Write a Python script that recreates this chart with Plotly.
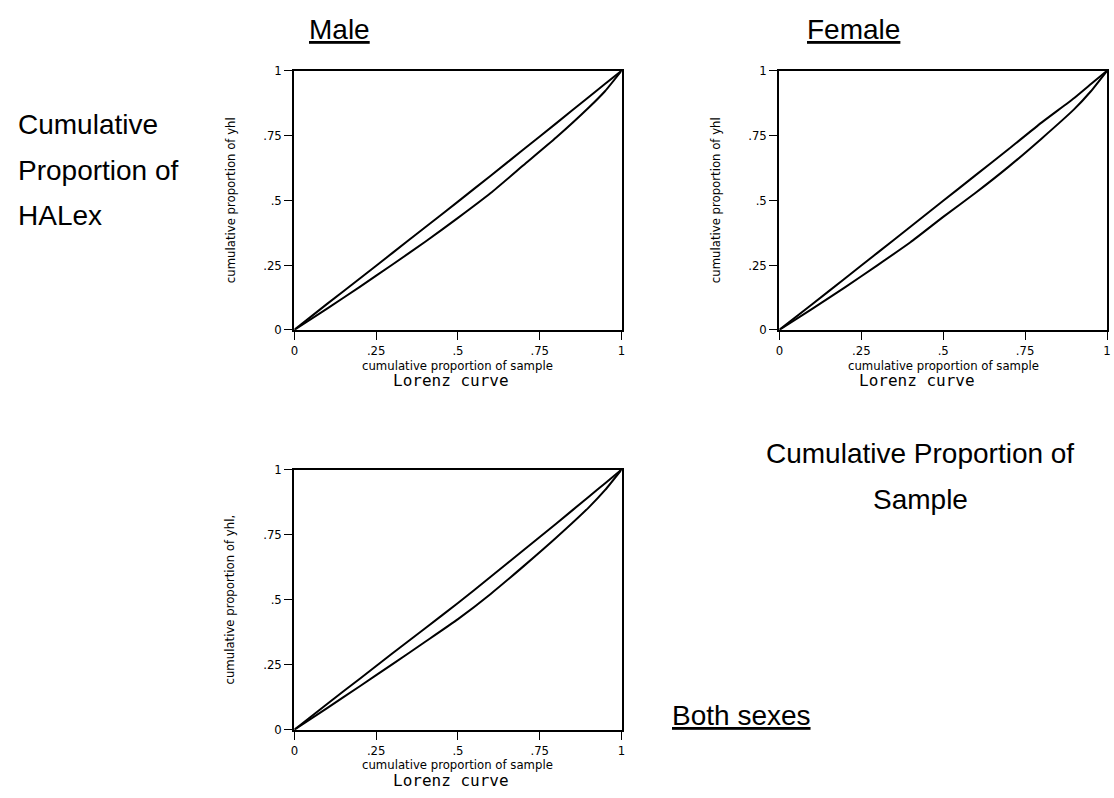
import plotly.graph_objects as go

W, H = 1114, 798

# cumulative proportion of sample (x)
sample_share = [0, 0.1, 0.2, 0.3, 0.4, 0.5, 0.6, 0.7, 0.8, 0.9, 0.95, 1]

male_upper = [0, 0.100, 0.198, 0.297, 0.396, 0.495, 0.595, 0.696, 0.797, 0.899, 0.950, 1]
male_lower = [0, 0.082, 0.166, 0.252, 0.340, 0.432, 0.528, 0.635, 0.742, 0.858, 0.922, 1]

female_upper = [0, 0.099, 0.198, 0.298, 0.398, 0.498, 0.598, 0.698, 0.800, 0.895, 0.948, 1]
female_lower = [0, 0.081, 0.164, 0.250, 0.338, 0.436, 0.530, 0.630, 0.738, 0.852, 0.920, 1]

both_upper = [0, 0.099, 0.196, 0.294, 0.390, 0.487, 0.588, 0.690, 0.792, 0.896, 0.948, 1]
both_lower = [0, 0.083, 0.167, 0.252, 0.338, 0.425, 0.522, 0.628, 0.738, 0.855, 0.922, 1]

tick_vals = [0, 0.25, 0.5, 0.75, 1]
tick_text = ["0", ".25", ".5", ".75", "1"]

y_titles = ["cumulative proportion of yhl", "cumulative proportion of yhl",
            "cumulative proportion of yhl,"]
x_title = "cumulative proportion of sample"
sub_caption = "Lorenz curve"


def px(x):
    return x / W


def py(y):
    return 1 - y / H


# panel frames in pixels: left, right, top, bottom
frames = [(292.5, 622, 65, 329), (781, 1111, 65, 329), (292.5, 622, 471.5, 736.5)]
series = [(male_upper, male_lower), (female_upper, female_lower), (both_upper, both_lower)]

fig = go.Figure()
narrow = "Liberation Sans Narrow, Arial Narrow, DejaVu Sans Condensed, sans-serif"
annotations = []

for i, ((l, r, t, b), (up, lo)) in enumerate(zip(frames, series)):
    n = "" if i == 0 else str(i + 1)
    for ys in (up, lo):
        fig.add_trace(go.Scatter(
            x=sample_share, y=ys, mode="lines",
            line=dict(color="black", width=2, shape="spline", smoothing=0.5),
            xaxis="x" + n, yaxis="y" + n, showlegend=False, hoverinfo="skip"
        ))
    axis_common = dict(
        range=[0, 1], tickvals=tick_vals, ticktext=tick_text,
        showline=True, mirror=True, linecolor="black", linewidth=2,
        ticks="outside", ticklen=8, tickcolor="black", tickwidth=1,
        showgrid=False, zeroline=False,
        tickfont=dict(family=narrow, size=13, color="black"),
    )
    fig.update_layout(**{
        "xaxis" + n: dict(axis_common, domain=[px(l), px(r)], anchor="y" + n),
        "yaxis" + n: dict(axis_common, domain=[py(b), py(t)], anchor="x" + n),
    })
    cx = (l + r) / 2
    annotations.append(dict(x=px(cx), y=py(b + 36), text=x_title, textangle=0,
                            font=dict(family=narrow, size=13)))
    annotations.append(dict(x=px(l - 65), y=py((t + b) / 2), text=y_titles[i], textangle=-90,
                            font=dict(family=narrow, size=13)))
    cap_x = 450 if i != 1 else 920
    annotations.append(dict(x=px(cap_x), y=py(b + 52), text=sub_caption,
                            font=dict(family="DejaVu Sans Mono, monospace", size=16)))

big = dict(family="Liberation Sans, Arial, sans-serif", size=28, color="black")
annotations += [
    dict(x=px(338), y=py(23), text="<u>Male</u>", font=big),
    dict(x=px(856), y=py(23), text="<u>Female</u>", font=big),
    dict(x=px(12), y=py(120), text="Cumulative", font=big, xanchor="left"),
    dict(x=px(12), y=py(167), text="Proportion of", font=big, xanchor="left"),
    dict(x=px(12), y=py(213), text="HALex", font=big, xanchor="left"),
    dict(x=px(923), y=py(455), text="Cumulative Proportion of", font=big),
    dict(x=px(923), y=py(502), text="Sample", font=big),
    dict(x=px(743), y=py(722), text="<u>Both sexes</u>", font=big),
]
for a in annotations:
    a.setdefault("xanchor", "center")
    a.update(xref="paper", yref="paper", yanchor="middle", showarrow=False)
    a["font"] = dict(dict(color="black"), **a["font"])

fig.update_layout(
    width=W, height=H,
    margin=dict(l=0, r=0, t=0, b=0),
    paper_bgcolor="white", plot_bgcolor="white",
    annotations=annotations,
)

# drop the page's default body margin so the figure sits at the window corner
fig.write_html("out.html", config={"displayModeBar": False},
               post_script="document.body.style.margin='0';")
